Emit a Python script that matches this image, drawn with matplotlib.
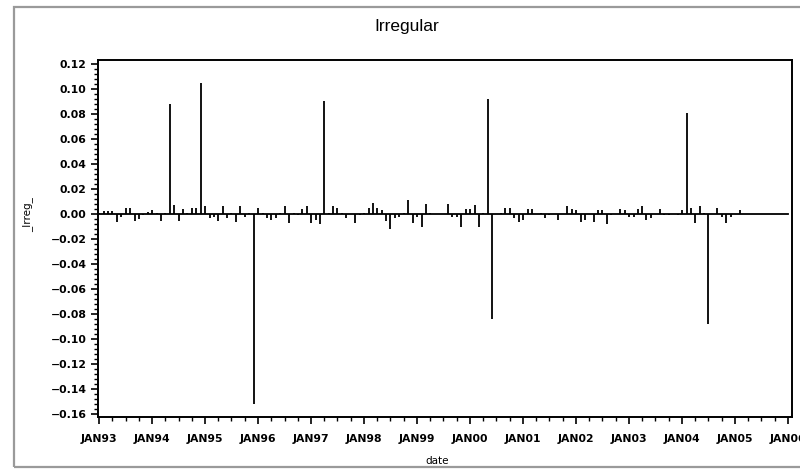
import datetime as dt
import matplotlib
matplotlib.use("Agg")
import matplotlib.pyplot as plt
import matplotlib.dates as mdates
from matplotlib.patches import Rectangle
from matplotlib.ticker import MultipleLocator, FixedLocator

# Monthly irregular component, Jan 1993 .. Jan 2006
start_year = 1993
irreg = [
    0.001, 0.0027, 0.0027, 0.0027, -0.006, -0.002, 0.0053, 0.0053, -0.0056, -0.004, -0.001, 0.002,   # 1993
    0.003, 0.001, -0.0056, 0.0013, 0.088, 0.007, -0.0056, 0.004, 0.001, 0.0053, 0.0053, 0.105,       # 1994
    0.0067, -0.003, -0.0024, -0.0056, 0.0067, -0.003, 0.001, -0.006, 0.0067, -0.0024, 0.001, -0.152, # 1995
    0.0053, 0.0013, -0.003, -0.005, -0.003, 0.0013, 0.0067, -0.007, 0.001, -0.001, 0.004, 0.0067,    # 1996
    -0.007, -0.005, -0.008, 0.091, 0.0013, 0.0067, 0.0053, 0.001, -0.003, 0.0005, -0.0067, -0.001,   # 1997
    0.0013, 0.0053, 0.009, 0.0053, 0.003, -0.0056, -0.012, -0.003, -0.0024, 0.0013, 0.011, -0.007,   # 1998
    -0.0024, -0.010, 0.008, 0.0013, 0.0005, 0.0, 0.0005, 0.008, -0.0024, -0.0024, -0.010, 0.004,     # 1999
    0.004, 0.0077, -0.010, 0.001, 0.0925, -0.084, 0.0005, 0.0013, 0.0053, 0.0053, -0.003, -0.006,    # 2000
    -0.0045, 0.004, 0.004, 0.0005, 0.0013, -0.003, -0.001, 0.0005, -0.0045, 0.0005, 0.0067, 0.004,   # 2001
    0.003, -0.006, -0.0045, 0.0005, -0.006, 0.003, 0.003, -0.008, -0.001, 0.0005, 0.004, 0.003,      # 2002
    -0.0024, -0.0024, 0.004, 0.0067, -0.0045, -0.003, 0.0005, 0.004, -0.001, -0.001, 0.0005, -0.001, # 2003
    0.003, 0.081, 0.005, -0.007, 0.0067, 0.0013, -0.088, 0.0005, 0.005, -0.0024, -0.007, -0.002,     # 2004
    0.0005, 0.003, 0.0, 0.0, 0.0, 0.0, 0.0, 0.0, 0.0, 0.0, 0.0, 0.0,                                 # 2005
    0.0,                                                                                               # 2006
]
dates = [dt.date(start_year + i // 12, i % 12 + 1, 1) for i in range(len(irreg))]
year_ticks = [dt.date(y, 1, 1) for y in range(1993, 2007)]
year_labels = ["JAN%02d" % (y % 100) for y in range(1993, 2007)]
quarter_ticks = [dt.date(y, m, 1) for y in range(1993, 2006) for m in (4, 7, 10)]

fig = plt.figure(figsize=(8.0, 4.7), dpi=100)
fig.patch.set_facecolor("white")

# grey frame around the graph area
fig.add_artist(Rectangle((14 / 800, 3 / 470), 1.2, 460 / 470, transform=fig.transFigure,
                         fill=False, edgecolor="#9a9a9a", linewidth=1.6))

ax = fig.add_axes([97.7 / 800, 53 / 470, (792 - 97.7) / 800, (417 - 60) / 470])
xd = mdates.date2num(dates)
ax.vlines(xd, 0, irreg, color="black", linewidth=1.3)
ax.plot([xd[0], xd[-1]], [0, 0], color="black", linewidth=1.3)

ax.set_xlim(mdates.date2num(dt.date(1992, 12, 21)), mdates.date2num(dt.date(2006, 1, 28)))
ax.set_ylim(-0.1625, 0.1235)

ax.xaxis.set_major_locator(FixedLocator(mdates.date2num(year_ticks)))
ax.set_xticklabels(year_labels)
ax.xaxis.set_minor_locator(FixedLocator(mdates.date2num(quarter_ticks)))
ax.yaxis.set_major_locator(MultipleLocator(0.02))
ax.yaxis.set_minor_locator(MultipleLocator(0.004))
ax.yaxis.set_major_formatter(matplotlib.ticker.FuncFormatter(
    lambda v, p: ("%.2f" % v).replace("-", "\u2212") if abs(v) > 1e-9 else "0.00"))

ax.tick_params(which="major", direction="out", length=5, width=1.2, labelsize=7.8, colors="black")
ax.tick_params(which="minor", direction="out", length=3, width=1.0)
for lab in ax.get_xticklabels() + ax.get_yticklabels():
    lab.set_fontfamily("DejaVu Sans")
    lab.set_fontweight("bold")
ax.tick_params(axis="x", pad=7)
ax.tick_params(axis="y", pad=3)
for s in ax.spines.values():
    s.set_linewidth(1.4)

fig.text(407 / 800, 1 - 27 / 470, "Irregular", ha="center", va="center",
         fontsize=12.5, family="Liberation Sans")
fig.text(437 / 800, 1 - 461 / 470, "date", ha="center", va="center",
         fontsize=7.5, family="DejaVu Sans")
fig.text(28 / 800, 1 - 215 / 470, "_Irreg_", ha="center", va="center",
         fontsize=7.5, family="DejaVu Sans", rotation=90)

fig.savefig("out.png", dpi=100)
